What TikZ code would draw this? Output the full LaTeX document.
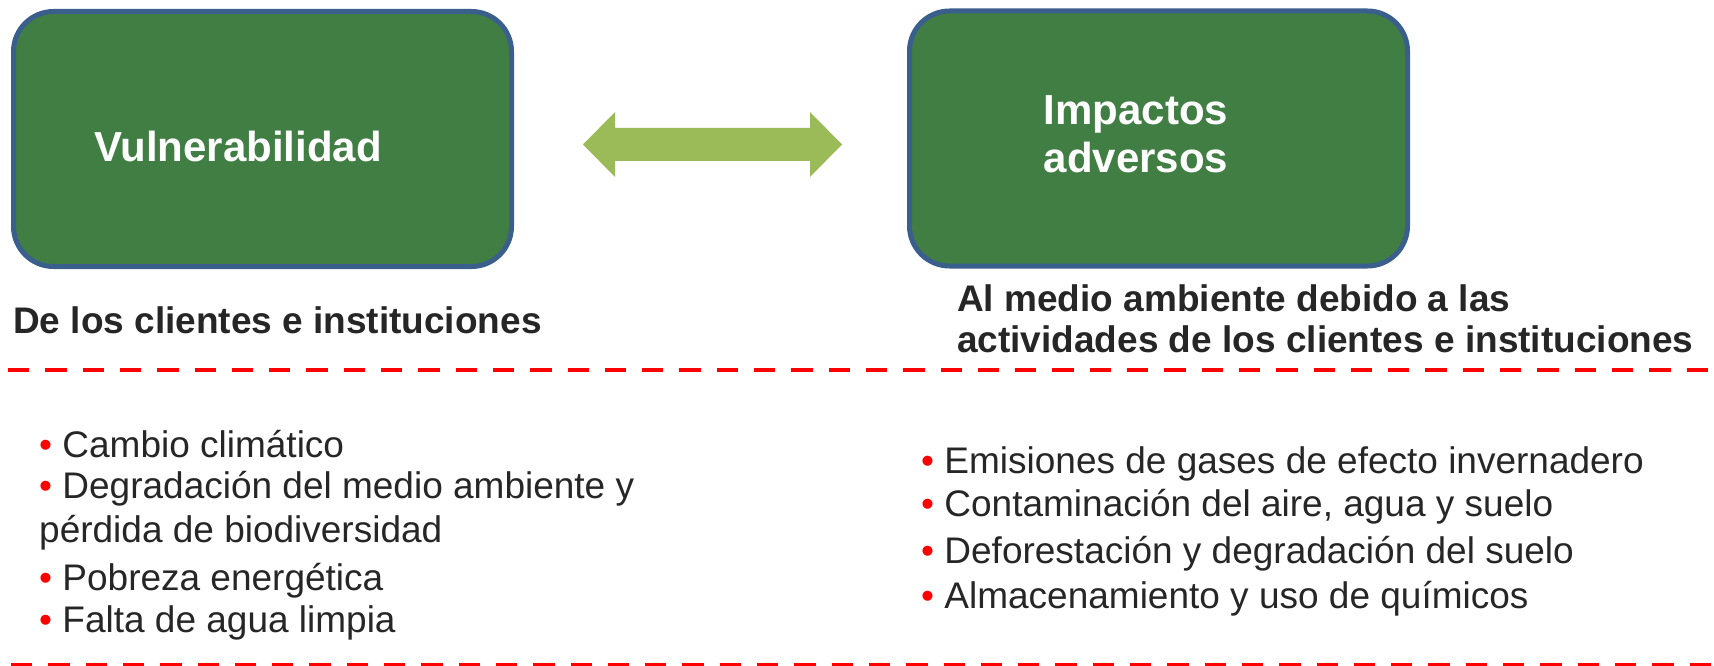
\documentclass[tikz,border=0pt]{standalone}
\usepackage{fontspec}
\setmainfont{Liberation Sans}

\definecolor{boxgreen}{RGB}{65,126,68}
\definecolor{boxblue}{RGB}{58,95,140}
\definecolor{arrowgreen}{RGB}{155,187,89}
\definecolor{textgray}{RGB}{38,38,38}
\definecolor{bulletred}{RGB}{255,0,0}

\newcommand{\bul}{\textcolor{bulletred}{•}\ }

\begin{document}
\begin{tikzpicture}[x=1pt, y=-1pt,
  box/.style={draw=boxblue, line width=5pt, fill=boxgreen, rounded corners=40pt,
    minimum width=498pt, minimum height=255pt, inner sep=0pt},
  boxtext/.style={text=white, font=\bfseries\fontsize{42}{49}\selectfont,
    align=center, anchor=base, inner sep=0pt},
  heading/.style={text=textgray, font=\bfseries\fontsize{37}{41}\selectfont,
    align=left, anchor=base west, inner sep=0pt},
  listitem/.style={text=textgray, font=\fontsize{37}{44}\selectfont,
    align=left, anchor=base west, inner sep=0pt},
  reddash/.style={draw=bulletred, line width=4.7pt, dash pattern=on 21.3pt off 16pt}]

\useasboundingbox (0,0) rectangle (1714,666);

% Riquadri verdi
\node[box] (vul) at (262.5,139) {};
\node[box] (imp) at (1158.5,138.5) {};
\node[boxtext] (vultxt) at (238,162) {Vulnerabilidad};
\node[boxtext] (imptxt) at (1136,173) {Impactos\\adversos};

% Freccia doppia
\fill[arrowgreen] (583,144.5) -- (615,112) -- (615,128) -- (810,128) -- (810,112)
  -- (842,144.5) -- (810,177) -- (810,161) -- (615,161) -- (615,177) -- cycle;

% Sottotitoli
\node[heading] (vulsub) at (13,333) {De los clientes e instituciones};
\node[heading] (impsub) at (957,352) {Al medio ambiente debido a las\\actividades de los clientes e instituciones};

% Linee tratteggiate
\draw[reddash] (8,370) -- (1714,370);
\draw[reddash] (11,665.5) -- (1714,665.5);

% Elenco a sinistra
\node[listitem] (v1) at (39,457) {\bul Cambio climático};
\node[listitem] (v2) at (39,542) {\bul Degradación del medio ambiente y\\pérdida de biodiversidad};
\node[listitem] (v3) at (39,590) {\bul Pobreza energética};
\node[listitem] (v4) at (39,632) {\bul Falta de agua limpia};

% Elenco a destra
\node[listitem] (i1) at (921,473) {\bul Emisiones de gases de efecto invernadero};
\node[listitem] (i2) at (921,516) {\bul Contaminación del aire, agua y suelo};
\node[listitem] (i3) at (921,563) {\bul Deforestación y degradación del suelo};
\node[listitem] (i4) at (921,608) {\bul Almacenamiento y uso de químicos};

\end{tikzpicture}
\end{document}
